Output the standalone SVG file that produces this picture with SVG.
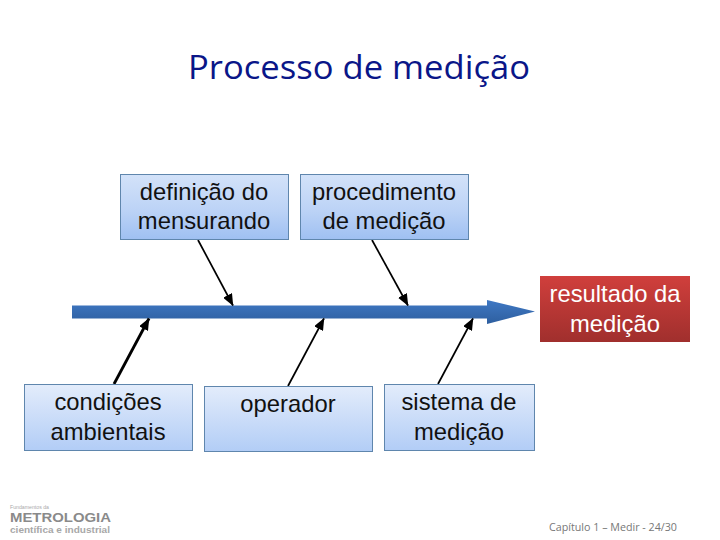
<svg xmlns="http://www.w3.org/2000/svg" width="720" height="540" viewBox="0 0 720 540">
<style>
.l{font-family:"Liberation Sans",Arial,sans-serif;font-size:23.8px;fill:#111;text-anchor:middle}
.box{stroke:#5f86ad;stroke-width:1}
.c{stroke:#000;fill:none}
</style>
<defs>
<linearGradient id="g1" x1="0" y1="0" x2="0" y2="1"><stop offset="0" stop-color="#d3e2f9"/><stop offset="0.55" stop-color="#bcd3f6"/><stop offset="1" stop-color="#9fc0f2"/></linearGradient>
<linearGradient id="g2" x1="0" y1="0" x2="0" y2="1"><stop offset="0" stop-color="#e3ecfb"/><stop offset="1" stop-color="#b2cdf6"/></linearGradient>
<linearGradient id="r" x1="0" y1="0" x2="0" y2="1"><stop offset="0" stop-color="#d03f3c"/><stop offset="1" stop-color="#a02f2d"/></linearGradient>
<linearGradient id="b" x1="0" y1="0" x2="0" y2="1"><stop offset="0" stop-color="#3f78c4"/><stop offset="1" stop-color="#2e5f9f"/></linearGradient>
<marker id="a" viewBox="0 0 12 10" refX="11.500" refY="5" markerWidth="12" markerHeight="10" markerUnits="userSpaceOnUse" orient="auto"><path d="M0 0L12 5L0 10Z" fill="#000"/></marker>
</defs>
<text x="359" y="79" font-family="'Open Sans','Noto Sans',sans-serif" font-size="33" fill="#0a1688" text-anchor="middle" textLength="342" lengthAdjust="spacingAndGlyphs">Processo de medição</text>
<g id="spine">
<path d="M72 305.500H487V300L535 311.500L487 324V318.500H72Z" fill="url(#b)"/>
</g>
<g id="connectors">
<path class="c" stroke-width="1.700" d="M198 240L233 305.500" marker-end="url(#a)"/>
<path class="c" stroke-width="1.700" d="M372 240L408 305.500" marker-end="url(#a)"/>
<path class="c" stroke-width="2.800" d="M114 384L149 318.500" marker-end="url(#a)"/>
<path class="c" stroke-width="1.700" d="M288 386L324 318.500" marker-end="url(#a)"/>
<path class="c" stroke-width="1.700" d="M438 384L473 318.500" marker-end="url(#a)"/>
</g>
<g id="n1"><rect class="box" x="120.500" y="174.500" width="168" height="65" fill="url(#g1)"/><text class="l" x="204" y="200">definição do</text><text class="l" x="204" y="229">mensurando</text></g>
<g id="n2"><rect class="box" x="300.500" y="174.500" width="168" height="65" fill="url(#g1)"/><text class="l" x="384" y="200">procedimento</text><text class="l" x="384" y="229">de medição</text></g>
<g id="n3"><rect x="540" y="276" width="150" height="66" fill="url(#r)"/><text class="l" x="615" y="302" style="fill:#fff">resultado da</text><text class="l" x="615" y="332" style="fill:#fff">medição</text></g>
<g id="n4"><rect class="box" x="24.500" y="384.500" width="168" height="66" fill="url(#g2)"/><text class="l" x="108" y="410">condições</text><text class="l" x="108" y="440">ambientais</text></g>
<g id="n5"><rect class="box" x="204.500" y="386.500" width="168" height="65" fill="url(#g2)"/><text class="l" x="288" y="412">operador</text></g>
<g id="n6"><rect class="box" x="384.500" y="384.500" width="150" height="66" fill="url(#g2)"/><text class="l" x="459" y="410">sistema de</text><text class="l" x="459" y="440">medição</text></g>
<g id="logo" font-family="'Liberation Sans',Arial,sans-serif" fill="#8a8a8a">
<text x="10" y="509" font-size="5.500" fill="#aaa" textLength="39" lengthAdjust="spacingAndGlyphs">Fundamentos da</text>
<text x="10" y="522" font-size="13.500" font-weight="bold" textLength="101" lengthAdjust="spacingAndGlyphs">METROLOGIA</text>
<text x="10" y="532.500" font-size="8.500" font-weight="bold" fill="#a8a8a8" textLength="100" lengthAdjust="spacingAndGlyphs">científica e industrial</text>
</g>
<text x="549" y="531" font-family="'Open Sans','Noto Sans',sans-serif" font-size="10.500" fill="#777" textLength="128" lengthAdjust="spacingAndGlyphs">Capítulo 1 – Medir - 24/30</text>
</svg>
